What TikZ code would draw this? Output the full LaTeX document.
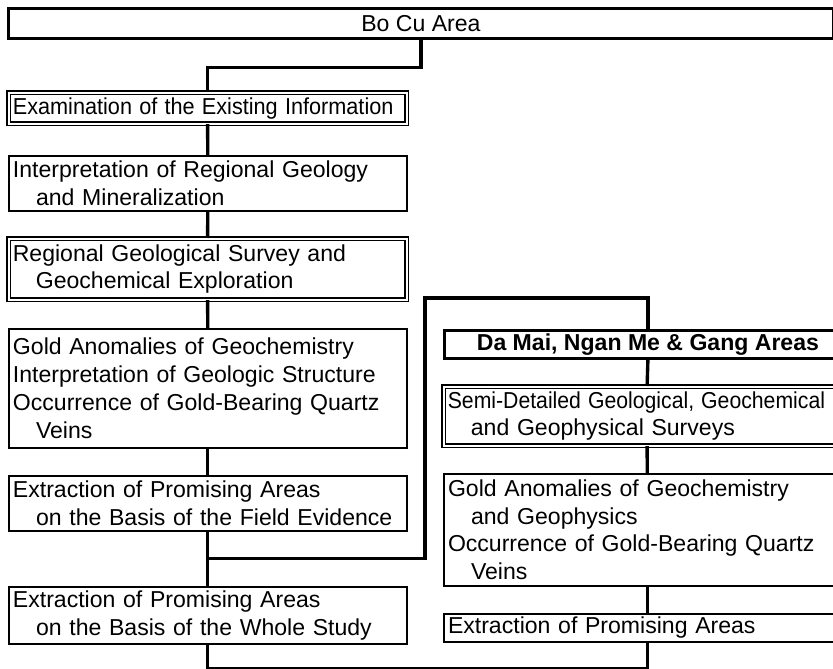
\documentclass[tikz,border=0pt]{standalone}
\usepackage{fontspec,graphicx}
\setmainfont{Liberation Sans}
\usetikzlibrary{calc}
\begin{document}
\begin{tikzpicture}[
 every node/.style={font=\fontsize{16.4}{19.8}\selectfont},
 sbox/.style={draw,line width=1.1pt,anchor=north west,align=left,inner xsep=3pt,inner ysep=.5pt},
 dbox/.style={sbox,line width=.85pt,double,double distance=1.3pt},
 tbox/.style={draw,line width=2pt,anchor=north west,align=center,inner sep=.5pt},
 lcol/.style={minimum width=9.95cm,text width=9.739cm},
 rcol/.style={minimum width=10.175cm,text width=9.964cm},
 conn/.style={line width=2.4pt}]
\useasboundingbox (0,0) rectangle (20.825,-16.725);
\clip (0,0) rectangle (20.825,-16.725);
% Bo Cu column
\node[tbox,minimum width=20.625cm,minimum height=.75cm] (bocu) at (.175,-.175) {Bo Cu Area};
\node[dbox,lcol,minimum height=.775cm] (exam) at (.2,-2.3) {\scalebox{.94}[1]{Examination of the Existing Information}};
\node[sbox,lcol,minimum height=1.375cm] (interp) at (.2,-3.875) {Interpretation of Regional Geology\\\hspace*{1em}and Mineralization};
\node[dbox,lcol,minimum height=1.525cm] (regional) at (.2,-5.95) {Regional Geological Survey and\\\hspace*{1em}Geochemical Exploration};
\node[sbox,lcol,minimum height=2.975cm] (goldL) at (.2,-8.2) {Gold Anomalies of Geochemistry\\Interpretation of Geologic Structure\\Occurrence of Gold-Bearing Quartz\\\hspace*{1em}Veins};
\node[sbox,lcol,minimum height=1.375cm] (field) at (.2,-11.875) {Extraction of Promising Areas\\\hspace*{1em}on the Basis of the Field Evidence};
\node[sbox,lcol,minimum height=1.425cm] (whole) at (.2,-14.65) {Extraction of Promising Areas\\\hspace*{1em}on the Basis of the Whole Study};
% Da Mai column
\node[tbox,minimum width=10.175cm,minimum height=.7cm] (damai) at (11.075,-8.225) {\textbf{Da Mai, Ngan Me \& Gang Areas}};
\node[dbox,rcol,minimum height=1.475cm] (semi) at (11.075,-9.65) {\scalebox{.92}[1]{Semi-Detailed Geological, Geochemical}\\\hspace*{1em}and Geophysical Surveys};
\node[sbox,rcol,minimum height=2.8cm] (goldR) at (11.075,-11.825) {Gold Anomalies of Geochemistry\\\hspace*{1em}and Geophysics\\Occurrence of Gold-Bearing Quartz\\\hspace*{1em}Veins};
\node[sbox,rcol,minimum height=.7cm] (extR) at (11.075,-15.325) {Extraction of Promising Areas};
% connectors
\draw[conn] (bocu.south) -- ++(0,-.7) -| (exam.north);
\draw[conn] (exam.south) -- (interp.north);
\draw[conn] (interp.south) -- (regional.north);
\draw[conn] (regional.south) -- (goldL.north);
\draw[conn] (goldL.south) -- (field.north);
\draw[conn] (field.south) -- (whole.north);
\coordinate (br) at ($(field.south)!.5!(whole.north)$);
\coordinate (jog) at (10.625,-7.45);
\draw[conn] (br) -| (jog) -| (damai.north);
\draw[conn] (damai.south) -- (semi.north);
\draw[conn] (semi.south) -- (goldR.north);
\draw[conn] (goldR.south) -- (extR.north);
\draw[conn] (whole.south) -- ++(0,-.6) -| (extR.south);
\end{tikzpicture}
\end{document}
